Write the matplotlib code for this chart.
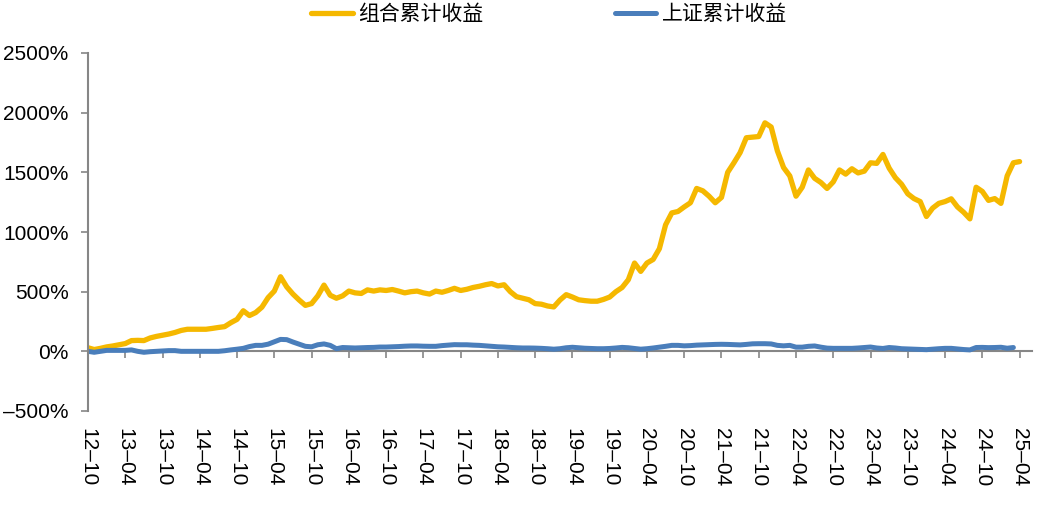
import matplotlib
matplotlib.use("Agg")
import matplotlib.pyplot as plt
from matplotlib.ticker import FuncFormatter

plt.rcParams['font.family'] = ['Liberation Sans', 'Noto Sans CJK SC', 'DejaVu Sans']

# monthly, starting 2012-10
tick_labels = ['12–10', '13–04', '13–10', '14–04', '14–10', '15–04', '15–10',
               '16–04', '16–10', '17–04', '17–10', '18–04', '18–10', '19–04',
               '19–10', '20–04', '20–10', '21–04', '21–10', '22–04', '22–10',
               '23–04', '23–10', '24–04', '24–10', '25–04']

# 组合累计收益 (%)
portfolio = [
    30, 15, 25, 37, 45, 55, 65, 90, 92, 90,
    112, 125, 135, 145, 158, 175, 185, 185, 185, 185,
    192, 200, 207, 240, 268, 340, 300, 325, 370, 450,
    505, 625, 540, 480, 430, 385, 400, 465, 555, 470,
    445, 465, 505, 490, 485, 515, 505, 515, 510, 518,
    505, 490, 500, 505, 490, 480, 505, 495, 510, 528,
    510, 520, 535, 545, 558, 568, 548, 558, 500, 458,
    445, 432, 400, 395, 380, 372, 430, 475, 455, 432,
    425, 420, 420, 435, 455, 500, 535, 600, 740, 670,
    740, 770, 860, 1060, 1160, 1172, 1210, 1245, 1365, 1345,
    1300, 1245, 1290, 1500, 1580, 1665, 1790, 1795, 1800, 1915,
    1880, 1680, 1540, 1470, 1300, 1375, 1520, 1450, 1415, 1365,
    1420, 1520, 1485, 1530, 1495, 1510, 1580, 1575, 1650, 1535,
    1455, 1400, 1320, 1280, 1255, 1130, 1200, 1240, 1255, 1278,
    1210, 1165, 1110, 1375, 1340, 1265, 1280, 1240, 1470, 1580,
    1590]

# 上证累计收益 (%)
sse = [
    0, -8, 0, 8, 8, 8, 8, 12, 0, -8,
    -3, 0, 3, 6, 6, 0, 0, 0, 0, 0,
    0, 0, 5, 12, 18, 25, 40, 50, 50, 60,
    80, 100, 98, 78, 60, 42, 38, 55, 62, 50,
    22, 32, 30, 28, 30, 32, 33, 36, 36, 38,
    40, 43, 45, 45, 43, 42, 42, 48, 52, 56,
    55, 55, 52, 50, 46, 42, 38, 36, 33, 30,
    28, 28, 27, 25, 22, 18, 22, 30, 34, 30,
    26, 24, 22, 22, 24, 28, 33, 30, 24, 18,
    22, 28, 35, 42, 50, 50, 46, 48, 52, 54,
    56, 58, 59, 58, 56, 54, 58, 63, 64, 64,
    62, 50, 46, 50, 35, 35, 42, 45, 35, 27,
    25, 25, 25, 25, 28, 32, 36, 28, 24, 32,
    28, 22, 20, 18, 16, 14, 18, 22, 25, 25,
    20, 15, 12, 32, 33, 31, 32, 34, 26, 32]

gold = '#F5B800'
blue = '#4A7EBB'
grey = '#868686'

fig = plt.figure(figsize=(10.51, 5.07), dpi=100)
ax = fig.add_axes([88 / 1051, 1 - 411 / 507, (1032 - 88) / 1051, (411 - 53) / 507])

ax.plot(range(len(portfolio)), portfolio, color=gold, lw=3.8,
        solid_capstyle='round', solid_joinstyle='round', label='组合累计收益')
ax.plot(range(len(sse)), sse, color=blue, lw=3.6,
        solid_capstyle='round', solid_joinstyle='round', label='上证累计收益')

ax.set_xlim(0, 152)
ax.set_ylim(-500, 2500)
ax.set_yticks(range(-500, 2501, 500))
ax.yaxis.set_major_formatter(FuncFormatter(lambda v, p: f'{v:.0f}%'.replace('-', '–')))
ax.tick_params(axis='y', direction='out', length=5, width=1.2, color=grey,
               labelsize=15, pad=9)

for s in ['top', 'right', 'bottom']:
    ax.spines[s].set_visible(False)
ax.spines['left'].set_color(grey)
ax.spines['left'].set_linewidth(1.5)

# labels sit at the bottom, axis line with ticks at 0%
ticks = [i * 6 for i in range(len(tick_labels))]
ax.set_xticks(ticks)
ax.set_xticklabels(tick_labels, rotation=-90, fontsize=15)
ax.tick_params(axis='x', length=0, pad=12)

zero_ax = ax.secondary_xaxis(500 / 3000)
zero_ax.set_xticks(ticks)
zero_ax.set_xticklabels([])
zero_ax.spines['bottom'].set_color(grey)
zero_ax.spines['bottom'].set_linewidth(1.5)
zero_ax.tick_params(direction='out', length=5, width=1.2, color=grey)

fig.legend(loc='center', bbox_to_anchor=(0.5224, 0.972), ncol=2, frameon=False,
           prop={'family': ['Noto Sans CJK SC', 'DejaVu Sans'], 'size': 15},
           handlelength=2.0, handletextpad=0.25, columnspacing=6.3)

fig.savefig('out.png', dpi=100)
